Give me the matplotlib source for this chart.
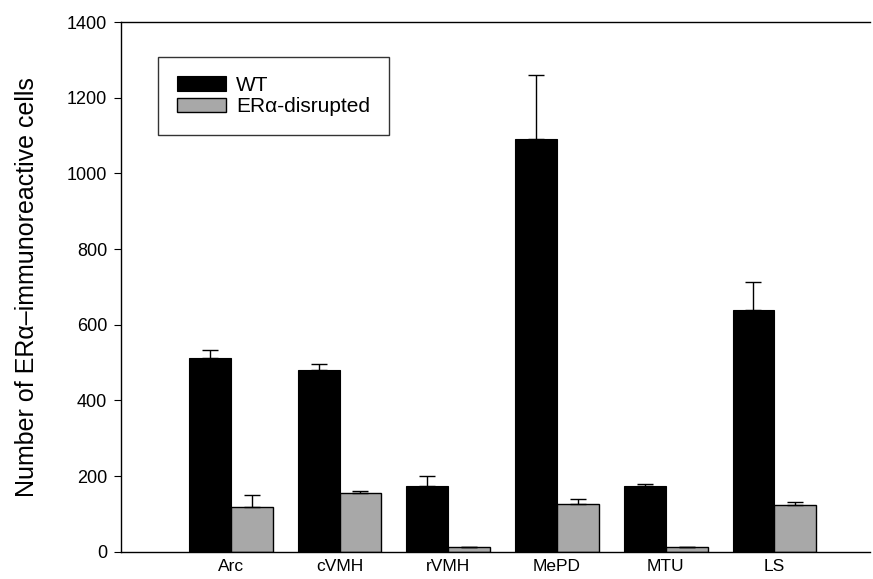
import numpy as np
import matplotlib.pyplot as plt

plt.rcParams['font.family'] = ['Liberation Sans', 'DejaVu Sans']

regions = ['Arc', 'cVMH', 'rVMH', 'MePD', 'MTU', 'LS']
wt_mean = [513, 480, 173, 1091, 173, 638]
wt_err = [21, 17, 26, 169, 6, 76]
ko_mean = [118, 155, 12, 125, 12, 124]
ko_err = [32, 6, 0, 15, 0, 8]

x = np.arange(len(regions))
w = 0.385

fig = plt.figure(figsize=(8.73, 5.79), dpi=100)
ax = fig.add_axes([0.1386, 0.047, 0.858, 0.915])

ax.bar(x - w / 2, wt_mean, w, color='black', edgecolor='black', linewidth=0.8,
       label='WT', yerr=[np.zeros(len(x)), wt_err], capsize=6,
       error_kw=dict(elinewidth=1, capthick=1, ecolor='black'))
ax.bar(x + w / 2, ko_mean, w, color='#a8a8a8', edgecolor='black', linewidth=1.0,
       label='ER\u03b1-disrupted', yerr=[np.zeros(len(x)), ko_err], capsize=6,
       error_kw=dict(elinewidth=1, capthick=1, ecolor='black'))

ax.set_xlim(-1.01, 5.88)
ax.set_ylim(0, 1400)
ax.set_yticks(range(0, 1401, 200))
ax.set_xticks(x)
ax.set_xticklabels(regions, fontsize=12.5)
ax.tick_params(axis='x', length=0, pad=5)
ax.tick_params(axis='y', labelsize=13, length=5, direction='out', pad=5)
ax.set_ylabel('Number of ER\u03b1\u2013immunoreactive cells', fontsize=18, labelpad=20)

ax.spines['right'].set_visible(False)
for s in ['left', 'top', 'bottom']:
    ax.spines[s].set_linewidth(1.0)

leg = ax.legend(loc='upper left', bbox_to_anchor=(0.0494, 0.934), borderaxespad=0,
                fontsize=15, frameon=True, fancybox=False, edgecolor='black',
                handlelength=2.35, handleheight=0.72, borderpad=0.9,
                labelspacing=0.12, handletextpad=0.5)
leg.get_frame().set_linewidth(1.0)

fig.savefig('out.png', dpi=100)
